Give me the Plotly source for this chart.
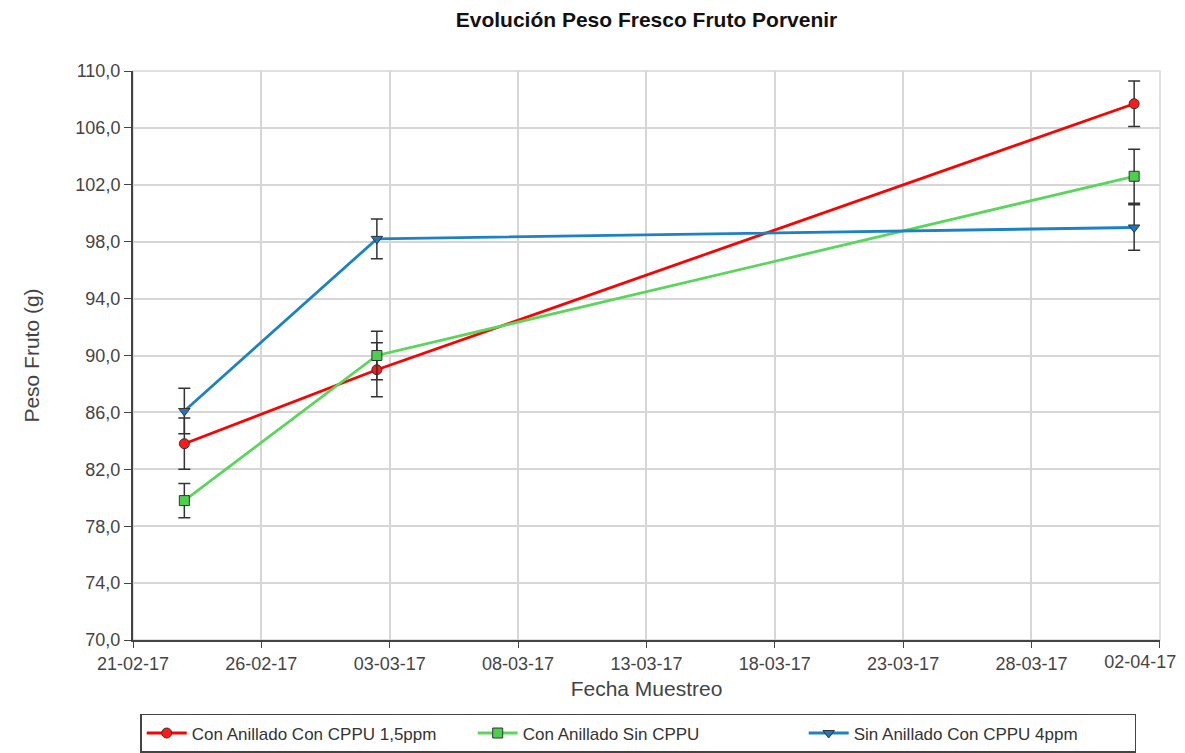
import plotly.graph_objects as go

dates = ["2017-02-23", "2017-03-02 12:00", "2017-04-01"]

series_names = ["Con Anillado Con CPPU 1,5ppm", "Con Anillado Sin CPPU", "Sin Anillado Con CPPU 4ppm"]
red_vals = [83.8, 89.0, 107.7]
red_err = [1.8, 1.9, 1.6]
green_vals = [79.8, 90.0, 102.6]
green_err = [1.2, 1.7, 1.9]
blue_vals = [86.1, 98.2, 99.0]
blue_err = [1.6, 1.4, 1.6]

x_tick_dates = ["2017-02-21", "2017-02-26", "2017-03-03", "2017-03-08", "2017-03-13",
                "2017-03-18", "2017-03-23", "2017-03-28", "2017-04-02"]
x_tick_labels = ["21-02-17", "26-02-17", "03-03-17", "08-03-17", "13-03-17",
                 "18-03-17", "23-03-17", "28-03-17", "02-04-17"]
y_ticks = [70, 74, 78, 82, 86, 90, 94, 98, 102, 106, 110]

FONT = "Liberation Sans, Arial, sans-serif"

styles = [
    (red_vals, red_err, "#ff0000", "#ff1a1a", "circle"),
    (green_vals, green_err, "#5ad65a", "#4ccf4c", "square"),
    (blue_vals, blue_err, "#1b82c4", "#1f78bd", "triangle-down"),
]

fig = go.Figure()
for name, (vals, errs, lc, mc, sym) in zip(series_names, styles):
    fig.add_trace(go.Scatter(
        x=dates, y=vals, name=name, mode="lines+markers",
        line=dict(color=lc, width=2.8),
        marker=dict(symbol=sym, size=10, color=mc, line=dict(color="#333333", width=1)),
        error_y=dict(type="data", array=errs, visible=True, color="#333333", thickness=1.5, width=6),
    ))

# helper (empty) trace so the overlay axis carrying the last date label is drawn
fig.add_trace(go.Scatter(x=[], y=[], xaxis="x2", showlegend=False, hoverinfo="skip"))

x_range = ["2017-02-21", "2017-04-02 00:10"]
tickfont = dict(family=FONT, size=18, color="#444444")

fig.update_layout(
    width=1185, height=753,
    paper_bgcolor="white", plot_bgcolor="white",
    separators=",.",
    margin=dict(l=125, r=33, t=63, b=121, autoexpand=False),
    title=dict(text="<b>Evolución Peso Fresco Fruto Porvenir</b>", x=0.5, xref="paper",
               y=0.984, yref="container", yanchor="middle",
               font=dict(family=FONT, size=21, color="#111111")),
    font=dict(family=FONT, color="#444444"),
    showlegend=True,
    legend=dict(orientation="h", x=0.007, xanchor="left", y=-0.13, yanchor="top",
                bordercolor="#444444", borderwidth=1.5, bgcolor="white",
                font=dict(family=FONT, size=17, color="#333333"),
                entrywidth=276, entrywidthmode="pixels", itemwidth=40),
    xaxis2=dict(
        type="date", range=x_range, overlaying="x", side="bottom", anchor="y",
        tickvals=x_tick_dates[-1:], ticktext=x_tick_labels[-1:],
        ticklabelposition="outside left", ticklabelshift=17, ticklabeloverflow="allow",
        ticks="outside", ticklen=6, tickcolor="rgba(0,0,0,0)", ticklabelstandoff=5,
        showgrid=False, showline=False, zeroline=False,
        tickfont=tickfont,
    ),
)

fig.layout.xaxis.update(
    type="date", range=x_range,
    tickvals=x_tick_dates, ticktext=x_tick_labels[:-1] + [""],
    showgrid=True, gridcolor="#d6d6d6", gridwidth=1.5,
    showline=True, linecolor="#444444", linewidth=2, mirror=False,
    ticks="outside", ticklen=6, tickcolor="#444444",
    tickfont=tickfont,
    title=dict(text="Fecha Muestreo", font=dict(family=FONT, size=21, color="#444444"), standoff=9),
    zeroline=False,
)
fig.update_yaxes(
    range=[70, 110], tickvals=y_ticks, tickformat=".1f",
    showgrid=True, gridcolor="#d6d6d6", gridwidth=1.5,
    showline=True, linecolor="#444444", linewidth=2,
    ticks="outside", ticklen=7, tickcolor="#444444",
    tickfont=tickfont,
    title=dict(text="Peso Fruto (g)", font=dict(family=FONT, size=21, color="#444444"), standoff=30),
    zeroline=False,
)

# top and right plot border (light)
fig.add_shape(type="rect", xref="paper", yref="paper", x0=0, y0=0, x1=1, y1=1,
              line=dict(color="#d6d6d6", width=1.5), layer="below")

fig.write_html("out.html")
